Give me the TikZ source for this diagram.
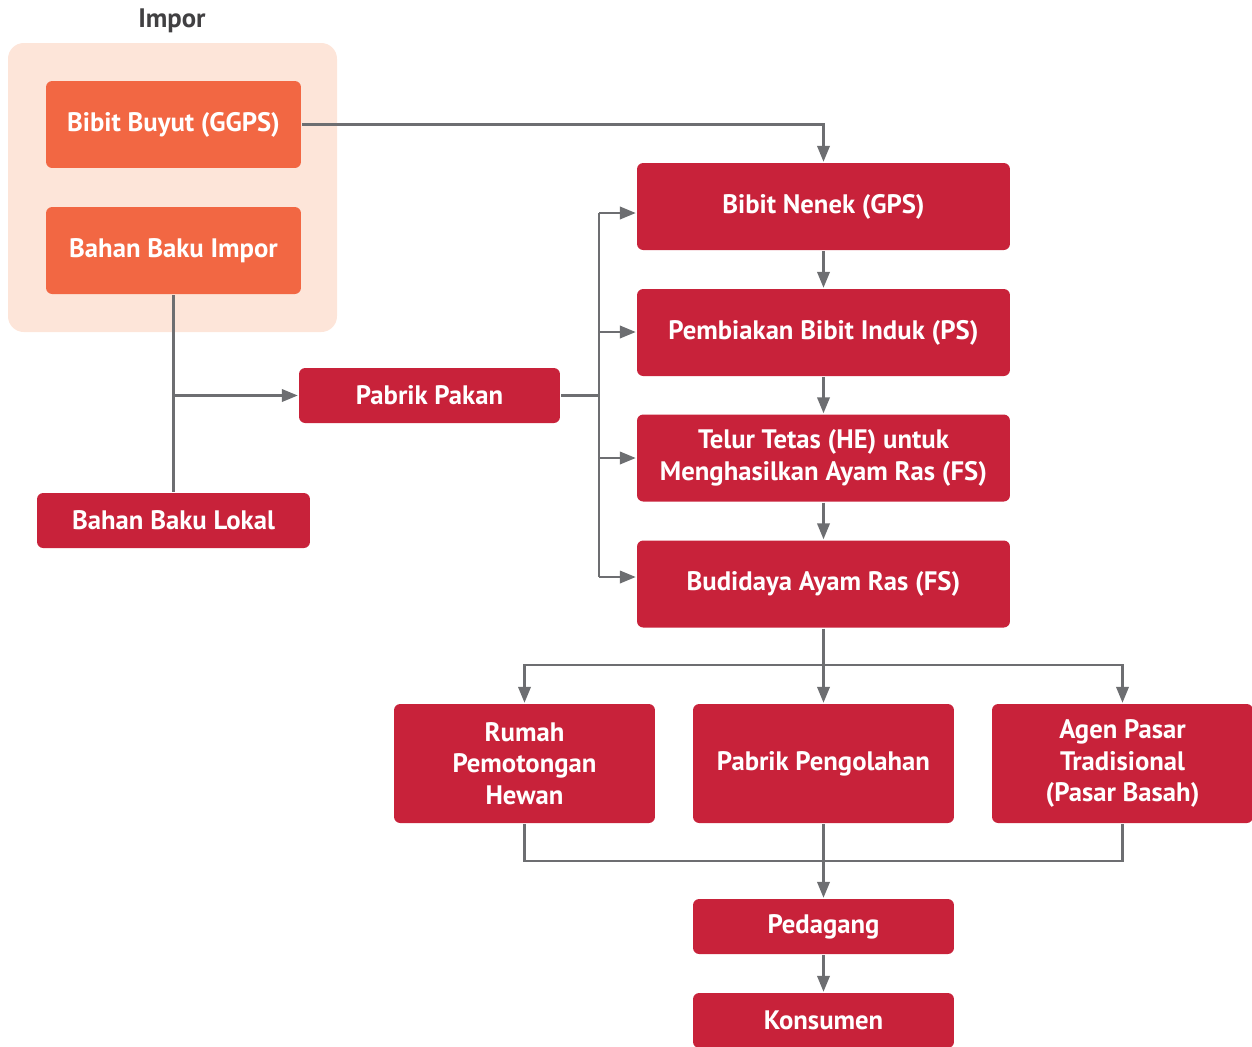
\documentclass[tikz,border=0pt]{standalone}
\usepackage{fontspec}
\setmainfont{PT Sans}
\usepackage{xcolor}
\usetikzlibrary{arrows.meta, positioning}
\definecolor{boxred}{HTML}{C8223A}
\definecolor{boxorange}{HTML}{F26743}
\definecolor{imporbg}{HTML}{FDE5D9}
\definecolor{linegray}{HTML}{6D6E71}
\definecolor{labelgray}{HTML}{414042}

\begin{document}
\begin{tikzpicture}[
>={Triangle[length=9pt,width=7pt]},
x=0.02cm, y=-0.02cm,
line width=1.4pt,
every node/.style={font=\bfseries\fontsize{15.2}{18.1}\selectfont, align=center},
redbox/.style={fill=boxred, text=white, rounded corners=3.5pt, inner sep=0pt},
orangebox/.style={fill=boxorange, text=white, rounded corners=3.5pt, inner sep=0pt, minimum width=5.1cm, minimum height=1.74cm},
tallbox/.style={redbox, minimum width=7.46cm, minimum height=1.74cm},
wide/.style={redbox, minimum width=5.22cm, minimum height=1.1cm},
block/.style={redbox, minimum width=5.22cm, minimum height=2.38cm},
conn/.style={draw=linegray},
]
\useasboundingbox (0,0) rectangle (1252,1046);
% impor group
\fill[imporbg, rounded corners=9pt] (8,43) rectangle (337,332);
\node[text=labelgray] (impor) at (172,21) {Impor};
\node[orangebox] (ggps) at (173.5,124.5) {Bibit Buyut (GGPS)};
\node[orangebox] (bbimpor) at (173.5,250.5) {Bahan Baku Impor};
\node[redbox, minimum width=5.46cm, minimum height=1.1cm] (bblokal) at (173.5,520.5) {Bahan Baku Lokal};
\node[wide] (pakan) at (429.5,395.5) {Pabrik Pakan};

% chain
\node[tallbox] (gps) at (823.5,206.5) {Bibit Nenek (GPS)};
\node[tallbox] (ps) at (823.5,332.5) {Pembiakan Bibit Induk (PS)};
\node[tallbox] (he) at (823.5,458) {Telur Tetas (HE) untuk\\Menghasilkan Ayam Ras (FS)};
\node[tallbox] (budidaya) at (823.5,584) {Budidaya Ayam Ras (FS)};

% distribution
\node[block] (rph) at (524.5,763.5) {Rumah\\Pemotongan\\Hewan};
\node[block] (olah) at (823.5,763.5) {Pabrik Pengolahan};
\node[block] (agen) at (1122.5,763.5) {Agen Pasar\\Tradisional\\(Pasar Basah)};
\node[wide] (pedagang) at (823.5,926.5) {Pedagang};
\node[wide] (konsumen) at (823.5,1020.5) {Konsumen};

% arrows
\draw[conn,->] (ggps.east) -| (gps.north);
\draw[conn] (bbimpor.south) -- (bblokal.north);
\draw[conn,->] (bbimpor.south |- pakan.west) -- (pakan.west);

\coordinate (fan) at (599,395.5);
\coordinate (f1) at (599,213);
\coordinate (f2) at (599,332);
\coordinate (f3) at (599,458);
\coordinate (f4) at (599,577);
\draw[conn] (pakan.east) -- (fan);
\draw[conn] (f1) -- (f4);
\draw[conn,->] (f1) -- (f1 -| gps.west);
\draw[conn,->] (f2) -- (f2 -| ps.west);
\draw[conn,->] (f3) -- (f3 -| he.west);
\draw[conn,->] (f4) -- (f4 -| budidaya.west);

\draw[conn,->] (gps) -- (ps);
\draw[conn,->] (ps) -- (he);
\draw[conn,->] (he) -- (budidaya);

\coordinate (split) at (823.5,665);
\draw[conn,->] (budidaya.south) -- (olah.north);
\draw[conn,->] (split) -| (rph.north);
\draw[conn,->] (split) -| (agen.north);

\coordinate (merge) at (823.5,861);
\draw[conn] (rph.south) |- (merge);
\draw[conn] (agen.south) |- (merge);
\draw[conn,->] (olah.south) -- (pedagang.north);
\draw[conn,->] (pedagang) -- (konsumen);
\end{tikzpicture}
\end{document}
